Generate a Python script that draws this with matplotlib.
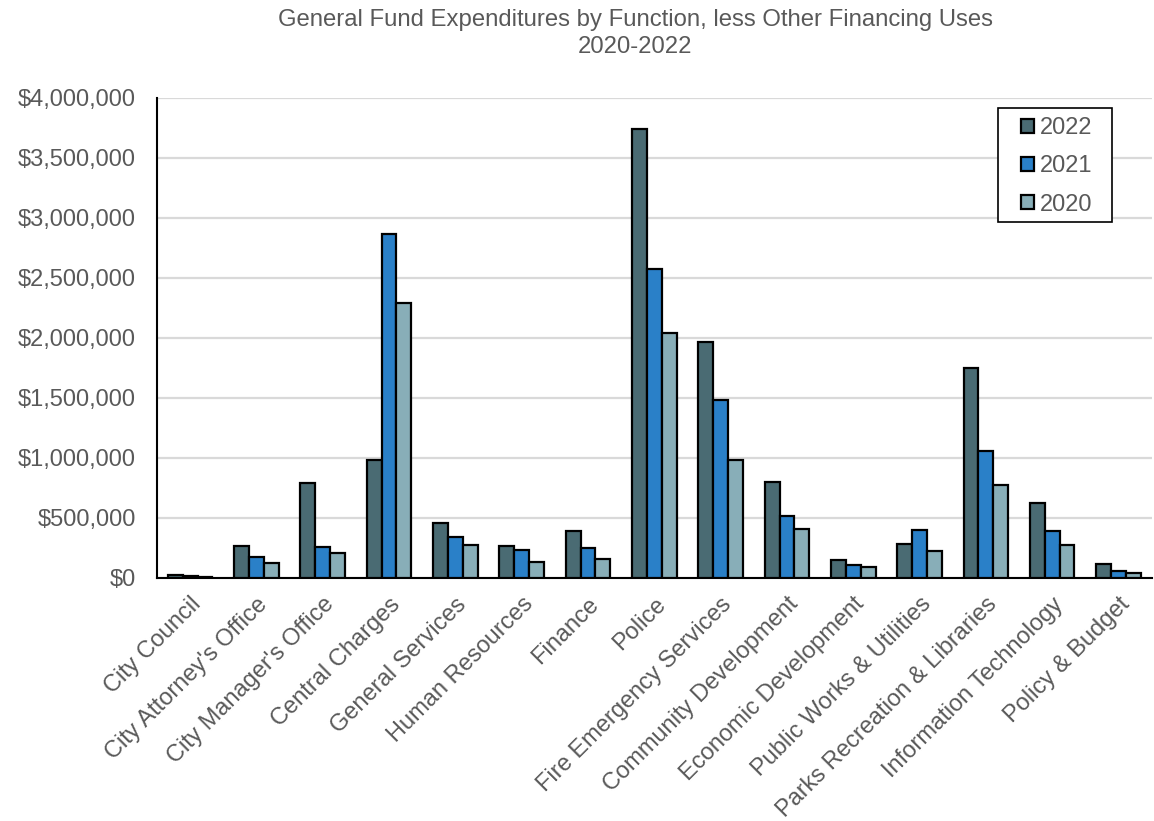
import matplotlib.pyplot as plt
import numpy as np
from matplotlib.patches import Rectangle
from matplotlib.ticker import FuncFormatter

plt.rcParams['font.family'] = ['Liberation Sans', 'DejaVu Sans']

functions = ["City Council", "City Attorney's Office", "City Manager's Office",
             "Central Charges", "General Services", "Human Resources", "Finance",
             "Police", "Fire Emergency Services", "Community Development",
             "Economic Development", "Public Works & Utilities",
             "Parks Recreation & Libraries", "Information Technology",
             "Policy & Budget"]

fy2022 = [25000, 266000, 790000, 983000, 458000, 266000, 392000, 3742000,
          1967000, 800000, 150000, 283000, 1750000, 625000, 117000]
fy2021 = [15000, 175000, 258000, 2866000, 342000, 233000, 250000, 2575000,
          1483000, 517000, 108000, 400000, 1060000, 392000, 58000]
fy2020 = [10000, 125000, 208000, 2290000, 275000, 133000, 158000, 2042000,
          983000, 408000, 92000, 225000, 775000, 275000, 42000]

years = ["2022", "2021", "2020"]
colors = ["#4A6B73", "#2A80C8", "#88AEB8"]
grey = "#595959"

fig = plt.figure(figsize=(11.54, 8.21), dpi=100)
ax = fig.add_axes([0.136, 0.296, 0.862, 0.585])

x = np.arange(len(functions))
w = 0.224
for i, (vals, yr, c) in enumerate(zip([fy2022, fy2021, fy2020], years, colors)):
    ax.bar(x + (i - 1) * w, vals, w, color=c, edgecolor='black',
           linewidth=1.6, label=yr, zorder=3)

ax.set_xlim(-0.5, len(functions) - 0.5)
ax.set_ylim(0, 4000000)
ax.set_yticks(np.arange(0, 4000001, 500000))
ax.yaxis.set_major_formatter(FuncFormatter(lambda v, p: '${:,.0f}'.format(v)))
ax.grid(axis='y', color='#D9D9D9', linewidth=1.6, zorder=0)
ax.set_xticks(x)
ax.set_xticklabels(functions, rotation=45, ha='right', rotation_mode='anchor')
ax.tick_params(axis='both', length=0, labelsize=17, colors=grey)
ax.tick_params(axis='y', pad=15)
ax.tick_params(axis='x', pad=11)

for s in ['top', 'right']:
    ax.spines[s].set_visible(False)
for s in ['left', 'bottom']:
    ax.spines[s].set_color('black')
    ax.spines[s].set_linewidth(1.5)

# legend box drawn separately so the padding can be wider than tall
ax.add_patch(Rectangle((0.845, 0.742), 0.1146, 0.2375, transform=ax.transAxes,
                       facecolor='white', edgecolor='black', linewidth=1.2,
                       zorder=4, clip_on=False))
leg = ax.legend(loc='upper left', bbox_to_anchor=(0.869, 0.959), fontsize=17,
                handlelength=0.55, handleheight=0.55, handletextpad=0.25,
                labelspacing=0.68, borderpad=0, borderaxespad=0,
                frameon=False, labelcolor=grey)
leg.set_zorder(5)

fig.text(635 / 1154, 1 - 20 / 821, "General Fund Expenditures by Function, less Other Financing Uses",
         ha='center', va='center', fontsize=17.2, color=grey)
fig.text(635 / 1154, 1 - 47 / 821, "2020-2022",
         ha='center', va='center', fontsize=17.2, color=grey)

fig.savefig("out.png", dpi=100)
